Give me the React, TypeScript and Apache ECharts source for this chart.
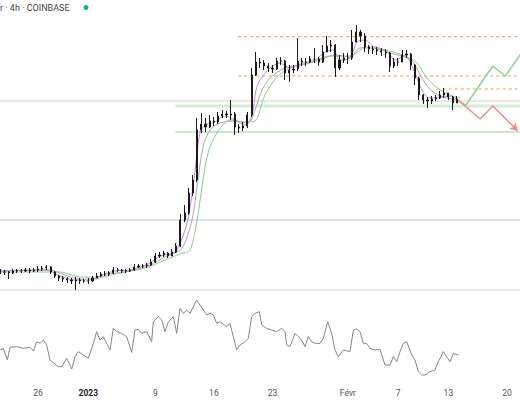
import React, { useEffect, useRef } from "react";
import * as echarts from "echarts";

// ---- x axis (days since 26 Dec 2022) ----
const tickDays = [0, 6, 14, 21, 28, 37, 43, 49, 56];
const tickLabels = ["26", "2023", "9", "16", "23", "Févr", "7", "13", "20"];
const xMinDay = -4.54;
const xMaxDay = 57.55;

// ---- price candles (12h periods) ----
const candleStartDay = -4.5;
const candleStepDays = 0.5;
const firstOpen = 16840;
const candleCloses = [
  16840, 16840, 16810, 16870, 16870, 16870, 16900, 16870, 16900, 16930,
  16960, 16990, 16840, 16720, 16660, 16630, 16600, 16570, 16600, 16570,
  16570, 16570, 16660, 16720, 16780, 16780, 16810, 16900, 16900, 16870,
  16870, 16900, 16990, 17020, 17020, 17050, 17140, 17320, 17350, 17410,
  17320, 17440, 17620, 18400, 18610, 19210, 19600, 21100, 21280, 21190,
  21370, 21340, 21520, 21580, 21550, 21580, 21190, 21160, 21220, 21550,
  22750, 23140, 23110, 23020, 22960, 22930, 23170, 23170, 22810, 22900,
  22930, 23170, 23140, 23140, 23230, 23230, 23140, 23440, 23620, 23650,
  22960, 23200, 23260, 23260, 23740, 24040, 23920, 23590, 23530, 23500,
  23470, 23440, 23410, 23020, 23140, 23140, 23350, 23380, 23050, 22660,
  22150, 22000, 21970, 22030, 22060, 22150, 22210, 22090, 21910, 22030,
];
const candleHighs = [
  16930, 16900, 16870, 16930, 16930, 16930, 16960, 16960, 16960, 17020,
  17020, 17050, 17020, 16870, 16750, 16720, 16690, 16660, 16690, 16660,
  16630, 16660, 16720, 16810, 16840, 16870, 16870, 16990, 16960, 16930,
  16930, 16960, 17080, 17080, 17080, 17110, 17230, 17410, 17440, 17470,
  17440, 17530, 17710, 18580, 18850, 19360, 19750, 21460, 21610, 21460,
  21550, 21490, 21640, 21700, 21670, 22000, 21640, 21280, 21340, 21640,
  22960, 23440, 23260, 23200, 23110, 23050, 23260, 23290, 23200, 23050,
  23050, 23860, 23260, 23260, 23320, 23560, 23290, 23650, 23920, 23800,
  23680, 23350, 23410, 23410, 24100, 24250, 24100, 24010, 23650, 23620,
  23590, 23560, 23530, 23440, 23260, 23260, 23500, 23500, 23410, 23080,
  22690, 22180, 22090, 22120, 22150, 22270, 22360, 22210, 22120, 22120,
];
const candleLows = [
  16780, 16750, 16630, 16780, 16810, 16810, 16840, 16810, 16840, 16840,
  16870, 16900, 16780, 16660, 16570, 16540, 16510, 16480, 16300, 16480,
  16510, 16480, 16540, 16660, 16690, 16720, 16720, 16780, 16840, 16810,
  16810, 16840, 16870, 16960, 16960, 16960, 17020, 17110, 17260, 17290,
  17260, 17320, 17410, 17590, 18340, 18550, 19120, 19540, 21010, 21040,
  21160, 21220, 21280, 21460, 21460, 21400, 20950, 21010, 21070, 21160,
  21490, 22720, 22960, 22900, 22840, 22810, 22900, 23050, 22600, 22540,
  22810, 22870, 23020, 23020, 23110, 23110, 23020, 23110, 23440, 23440,
  22690, 22900, 23110, 23080, 23200, 23740, 23740, 23440, 23380, 23380,
  23350, 23320, 23260, 22840, 22960, 23020, 23140, 23260, 22900, 22450,
  22000, 21880, 21760, 21880, 21970, 22030, 22060, 22000, 21700, 21910,
];

// ---- moving averages: [day, price] ----
const maFast = [
  [-4.54, 16870], [0.24, 16900], [1.43, 16870], [2.63, 16720], [4.42, 16600],
  [6.21, 16600], [7.4, 16720], [9.19, 16870], [10.99, 16900], [12.18, 16990],
  [13.37, 17110], [14.57, 17320], [15.76, 17380], [16.6, 17500], [17.79, 18310],
  [18.51, 19390], [18.99, 20410], [19.34, 21010], [19.94, 21250], [21.13, 21340],
  [22.33, 21520], [23.52, 21400], [24.72, 21250], [25.55, 21550], [26.03, 22300],
  [26.51, 22600], [27.7, 22960], [28.9, 23110], [30.09, 22960], [31.28, 23080],
  [33.07, 23200], [34.27, 23440], [35.22, 23500], [36.06, 23200], [37.25, 23260],
  [38.09, 23740], [39.04, 23800], [40.24, 23560], [41.67, 23440], [42.63, 23200],
  [43.82, 23320], [44.42, 23140], [45.25, 22660], [45.97, 22240], [46.81, 22060],
  [48.0, 22090], [49.19, 22120], [50.15, 22000],
];
const maMid = [
  [-4.54, 16870], [1.43, 16900], [3.22, 16750], [5.01, 16630], [6.81, 16630],
  [8.6, 16780], [10.99, 16870], [13.37, 17050], [15.16, 17290], [16.36, 17410],
  [17.31, 17590], [18.39, 18400], [18.99, 19390], [19.7, 20590], [20.54, 21100],
  [21.73, 21310], [23.52, 21370], [25.07, 21310], [25.91, 21700], [26.75, 22300],
  [27.7, 22660], [29.49, 22960], [31.28, 23050], [33.67, 23200], [35.46, 23350],
  [37.25, 23290], [38.45, 23560], [40.24, 23590], [42.03, 23410], [43.82, 23290],
  [44.78, 23140], [45.97, 22600], [47.16, 22240], [48.36, 22090], [50.03, 22000],
];
const maSlow = [
  [-4.54, 16840], [2.63, 16840], [5.01, 16690], [7.4, 16690], [9.79, 16810],
  [12.78, 16960], [15.16, 17200], [16.96, 17380], [18.15, 17500], [18.99, 18400],
  [19.58, 19390], [20.3, 20410], [21.37, 21010], [22.93, 21400], [24.72, 21340],
  [25.91, 21370], [27.1, 22150], [28.54, 22690], [30.09, 22960], [32.48, 23110],
  [34.87, 23320], [37.25, 23320], [39.04, 23560], [41.43, 23500], [43.82, 23320],
  [45.25, 23110], [46.45, 22660], [48.0, 22300], [49.55, 22120], [50.39, 22060],
];

// ---- horizontal levels ----
const levelPrices = [23900, 22720, 22330, 21970, 21820, 21040, 18400, 16300];
const levelStartDays = [23.9, 23.9, 47.6, -4.54, 16.4, 16.4, -4.54, -4.54];

// ---- projected paths ----
const bullDays = [50.15, 51.1, 54.3, 55.8, 57.8];
const bullPrices = [21970, 21850, 23020, 22720, 23440];
const bearDays = [50.15, 52.8, 54.3, 57.3];
const bearPrices = [22000, 21430, 21820, 21070];

// ---- RSI ----
const rsiDays = [
  -4.54, -4.14, -3.66, -3.34, -2.55, -1.75, -0.96, -0.56, -0.16, 0.24, 0.64, 1.03,
  1.43, 1.83, 2.43, 2.83, 3.42, 3.82, 4.02, 4.42, 4.82, 5.41, 6.01, 6.61, 7.0, 7.4,
  7.8, 8.2, 8.6, 8.99, 9.39, 9.99, 10.59, 11.18, 11.58, 11.98, 12.38, 12.98, 13.57,
  13.77, 14.37, 14.77, 15.16, 15.56, 16.16, 16.56, 16.95, 17.35, 17.75, 18.15, 18.55,
  18.94, 19.34, 19.74, 20.14, 20.54, 20.94, 21.33, 21.73, 22.53, 22.92, 23.32, 23.72,
  24.12, 24.72, 25.11, 25.51, 25.91, 26.43, 26.71, 27.3, 27.9, 28.5, 29.09, 29.49,
  29.69, 30.09, 30.69, 31.08, 31.48, 31.88, 32.28, 32.68, 33.07, 33.67, 34.07, 34.59,
  35.06, 35.46, 35.86, 36.46, 37.25, 37.65, 38.05, 38.45, 38.85, 39.24, 39.64, 40.24,
  40.84, 41.43, 42.03, 42.43, 42.83, 43.22, 43.62, 44.02, 44.62, 45.01, 45.41, 45.81,
  46.21, 46.81, 47.4, 47.8, 48.4, 48.8, 49.19, 49.59, 50.19,
];
const rsiValues = [
  46.2, 47.7, 37.5, 48.6, 49.2, 47.7, 48.6, 45.4, 53.5, 52.1, 55.0, 50.6,
  37.5, 35.2, 31.7, 31.7, 39.0, 33.1, 29.6, 40.4, 44.8, 41.9, 39.0, 52.1, 62.3, 55.0,
  57.9, 52.1, 46.2, 65.2, 62.3, 60.8, 57.9, 44.2, 63.7, 64.3, 60.8, 62.3, 53.5,
  71.0, 75.4, 72.5, 62.3, 71.0, 75.4, 60.8, 82.7, 78.3, 81.2, 78.3, 84.2,
  90.0, 85.6, 81.2, 76.9, 78.3, 76.9, 69.6, 71.0, 66.6, 69.6, 57.9, 46.2,
  50.6, 53.5, 56.5, 75.4, 78.3, 79.8, 68.1, 65.2, 63.7, 62.3, 65.2, 62.3,
  50.6, 49.2, 60.8, 57.9, 55.0, 49.2, 57.9, 53.5, 52.1, 52.1, 56.5, 71.0,
  60.8, 46.2, 40.4, 46.2, 44.8, 63.7, 64.6, 62.3, 52.1, 52.1, 47.7, 46.2,
  46.8, 33.1, 33.1, 40.4, 36.0, 44.8, 52.1, 53.5, 41.9, 37.5, 27.3, 24.4,
  24.4, 27.3, 28.8, 36.0, 44.8, 40.4, 36.0, 43.3, 41.9,
];

const levelStyles = [
  { color: "#dea25c", width: 1, type: [3, 3] },
  { color: "#dea25c", width: 1, type: [3, 3] },
  { color: "#dea25c", width: 1, type: [3, 3] },
  { color: "#e3ded7", width: 1.5, type: "solid" },
  { color: "#d6eed8", width: 3, type: "solid" },
  { color: "#cde8cf", width: 2, type: "solid" },
  { color: "#d9e4eb", width: 2, type: "solid" },
  { color: "#e3e3e3", width: 1.5, type: "solid" },
];

export default function App() {
  const ref = useRef<HTMLDivElement>(null);

  useEffect(() => {
    if (!ref.current) return;
    const chart = echarts.init(ref.current, undefined, { renderer: "svg" });

    const candles = candleCloses.map((c, i) => {
      const o = i === 0 ? firstOpen : candleCloses[i - 1];
      const h = Math.max(candleHighs[i], o, c);
      const l = Math.min(candleLows[i], o, c);
      return [candleStartDay + i * candleStepDays, o, c, l, h];
    });

    const levelSeries = levelPrices.map((p, i) => ({
      type: "line",
      xAxisIndex: 0,
      yAxisIndex: 0,
      symbol: "none",
      silent: true,
      z: 1,
      lineStyle: levelStyles[i],
      data: [
        [levelStartDays[i], p],
        [xMaxDay, p],
      ],
    }));

    const maSeries = [
      { d: maSlow, color: "#8fcb93" },
      { d: maMid, color: "#ababab" },
      { d: maFast, color: "#b890d2" },
    ].map((m) => ({
      type: "line",
      xAxisIndex: 0,
      yAxisIndex: 0,
      symbol: "none",
      smooth: 0.3,
      z: 2,
      lineStyle: { color: m.color, width: 1 },
      data: m.d,
    }));

    const bearData = bearDays.map((d, i) =>
      i === bearDays.length - 1
        ? { value: [d, bearPrices[i]], symbol: "arrow", symbolSize: [7, 8], symbolRotate: -135 }
        : { value: [d, bearPrices[i]], symbol: "none" }
    );

    chart.setOption({
      animation: false,
      backgroundColor: "#ffffff",
      grid: [
        { left: 0, right: 0, top: 0, height: 300 },
        { left: 0, right: 0, top: 300, height: 80 },
      ],
      xAxis: [
        {
          type: "value",
          gridIndex: 0,
          min: xMinDay,
          max: xMaxDay,
          show: false,
        },
        {
          type: "value",
          gridIndex: 1,
          min: xMinDay,
          max: xMaxDay,
          axisLine: { show: false },
          axisTick: { show: false },
          splitLine: { show: false },
          axisLabel: {
            customValues: tickDays,
            margin: 8,
            color: "#555",
            fontSize: 8.5,
            fontFamily: "Roboto",
            hideOverlap: false,
            formatter: (v: number) => {
              const i = tickDays.indexOf(v);
              const t = i >= 0 ? tickLabels[i] : "";
              return t === "2023" ? `{b|${t}}` : t;
            },
            rich: {
              b: { fontWeight: "bold", color: "#222", fontSize: 8.5, fontFamily: "Roboto" },
            },
          },
        },
      ],
      yAxis: [
        { type: "value", gridIndex: 0, min: 16000, max: 25000, show: false },
        { type: "value", gridIndex: 1, min: 20, max: 90, show: false },
      ],
      graphic: [
        {
          type: "text",
          left: 0,
          top: 3,
          style: {
            text: "r · 4h · COINBASE",
            fill: "#444",
            font: "9px Roboto",
          },
        },
        {
          type: "circle",
          shape: { cx: 86, cy: 7.5, r: 2.5 },
          style: { fill: "#22ab7a" },
        },
      ],
      series: [
        ...levelSeries,
        ...maSeries,
        {
          type: "candlestick",
          xAxisIndex: 0,
          yAxisIndex: 0,
          z: 3,
          barWidth: 1.6,
          encode: { x: 0, y: [1, 2, 3, 4] },
          itemStyle: {
            color: "#1a1a1a",
            color0: "#1a1a1a",
            borderColor: "#1a1a1a",
            borderColor0: "#1a1a1a",
            borderWidth: 1,
          },
          data: candles,
        },
        {
          type: "line",
          xAxisIndex: 0,
          yAxisIndex: 0,
          symbol: "none",
          z: 4,
          lineStyle: { color: "#8fd09a", width: 1.5 },
          data: bullDays.map((d, i) => [d, bullPrices[i]]),
        },
        {
          type: "line",
          xAxisIndex: 0,
          yAxisIndex: 0,
          z: 4,
          lineStyle: { color: "#ee8d8d", width: 1.5 },
          itemStyle: { color: "#ee8d8d" },
          data: bearData,
        },
        {
          type: "line",
          xAxisIndex: 1,
          yAxisIndex: 1,
          symbol: "none",
          lineStyle: { color: "#8e8282", width: 1 },
          data: rsiDays.map((d, i) => [d, rsiValues[i]]),
        },
      ],
    });

    return () => chart.dispose();
  }, []);

  return (
    <div
      ref={ref}
      style={{ position: "fixed", left: 0, top: 0, width: 520, height: 400, background: "#fff" }}
    />
  );
}
